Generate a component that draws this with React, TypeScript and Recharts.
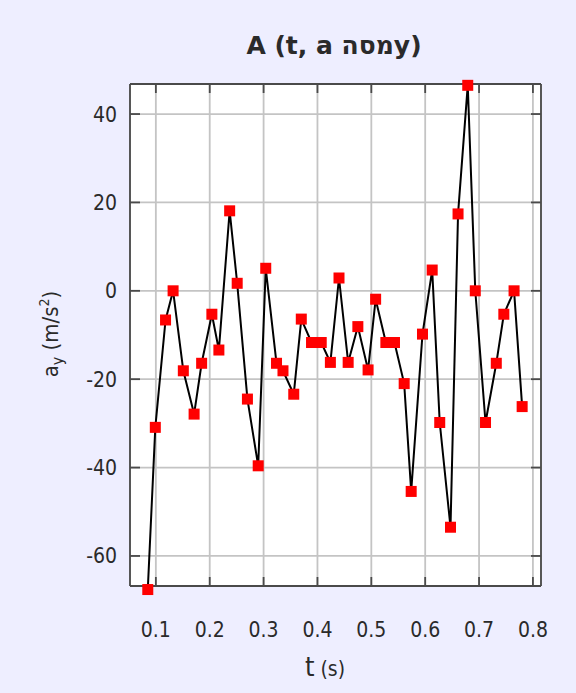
import { ComposedChart, Line, XAxis, YAxis, CartesianGrid } from "recharts";

// sample times (s) and vertical acceleration (m/s²)
const times = [
  0.085, 0.099, 0.118, 0.132, 0.151, 0.171, 0.185, 0.204, 0.217, 0.237,
  0.251, 0.27, 0.29, 0.304, 0.324, 0.336, 0.356, 0.37, 0.389, 0.407,
  0.424, 0.44, 0.457, 0.475, 0.494, 0.508, 0.527, 0.543, 0.561, 0.574,
  0.595, 0.613, 0.627, 0.647, 0.661, 0.679, 0.693, 0.712, 0.732, 0.746,
  0.765, 0.78,
];
const accelY = [
  -67.6, -30.9, -6.6, 0, -18.1, -27.9, -16.4, -5.3, -13.4, 18.1,
  1.7, -24.5, -39.6, 5.1, -16.4, -18.1, -23.4, -6.4, -11.7, -11.7,
  -16.2, 2.9, -16.2, -8.1, -17.9, -1.9, -11.7, -11.7, -21, -45.4,
  -9.8, 4.7, -29.8, -53.5, 17.4, 46.5, 0, -29.8, -16.4, -5.3,
  0, -26.2,
];
const xTicks = [0.1, 0.2, 0.3, 0.4, 0.5, 0.6, 0.7, 0.8];
const yTicks = [-60, -40, -20, 0, 20, 40];

const data = times.map((t, i) => ({ t, ay: accelY[i] }));

const W = 576;
const H = 693;
const FRAME = "#4a4a4a";
const TICK_FONT = "'DejaVu Sans Condensed', 'Liberation Sans Narrow', 'Liberation Sans', sans-serif";

const tickStyle = { fill: "#2a2a2a", fontSize: 21, fontFamily: TICK_FONT };
const axisLine = { stroke: FRAME, strokeWidth: 1.8 };
const blank = () => "";

const SquareDot = (props: any) => {
  const { cx, cy, index } = props;
  if (cx == null || cy == null) return null;
  return <rect key={index} x={cx - 5.5} y={cy - 5.5} width={11} height={11} fill="#ff0000" />;
};

export default function App() {
  return (
    <div style={{ position: "absolute", left: 0, top: 0, width: W, height: H, background: "#eeeeff" }}>
      {/* let the first/last markers spill over the frame */}
      <style>{`.recharts-wrapper g[clip-path] { clip-path: none !important; }`}</style>
      <ComposedChart
        width={W}
        height={H}
        data={data}
        margin={{ top: 64, right: 15, bottom: 57, left: 70 }}
      >
        <CartesianGrid stroke="#c4c4c4" strokeWidth={1.8} fill="#ffffff" fillOpacity={1} />
        <XAxis
          dataKey="t"
          type="number"
          domain={[0.052, 0.815]}
          ticks={xTicks}
          interval={0}
          allowDataOverflow
          height={50}
          tickSize={-9}
          tickMargin={45}
          axisLine={axisLine}
          tickLine={{ stroke: FRAME, strokeWidth: 1.8 }}
          tick={tickStyle}
        />
        <XAxis
          xAxisId="top"
          orientation="top"
          dataKey="t"
          type="number"
          domain={[0.052, 0.815]}
          ticks={xTicks}
          interval={0}
          allowDataOverflow
          height={20}
          tickSize={-9}
          tickFormatter={blank}
          axisLine={axisLine}
          tickLine={{ stroke: FRAME, strokeWidth: 1.8 }}
        />
        <YAxis
          type="number"
          domain={[-66.8, 46.8]}
          ticks={yTicks}
          interval={0}
          allowDataOverflow
          width={60}
          tickSize={-10}
          tickMargin={23}
          axisLine={axisLine}
          tickLine={{ stroke: FRAME, strokeWidth: 1.8 }}
          tick={tickStyle}
        />
        <YAxis
          yAxisId="right"
          orientation="right"
          type="number"
          domain={[-66.8, 46.8]}
          ticks={yTicks}
          interval={0}
          allowDataOverflow
          width={20}
          tickSize={-10}
          tickFormatter={blank}
          axisLine={axisLine}
          tickLine={{ stroke: FRAME, strokeWidth: 1.8 }}
        />
        {/* markers underneath, the connecting line drawn over them */}
        <Line
          dataKey="ay"
          type="linear"
          stroke="none"
          dot={SquareDot}
          activeDot={false}
          isAnimationActive={false}
        />
        <Line
          dataKey="ay"
          type="linear"
          stroke="#000000"
          strokeWidth={2}
          dot={false}
          activeDot={false}
          isAnimationActive={false}
        />
      </ComposedChart>
      <svg
        width={W}
        height={H}
        style={{ position: "absolute", left: 0, top: 0, pointerEvents: "none" }}
      >
        <text
          x={334}
          y={54}
          textAnchor="middle"
          fontFamily="'DejaVu Sans', sans-serif"
          fontWeight="bold"
          fontSize={25}
          fill="#2a2a2a"
        >
          A (t, a מסהy)
        </text>
        <text
          x={0}
          y={0}
          transform="translate(58 334) rotate(-90)"
          textAnchor="middle"
          fontFamily={TICK_FONT}
          fontSize={22}
          fill="#2a2a2a"
        >
          a<tspan fontSize={16} dy={5}>y</tspan>
          <tspan dy={-5}> (m/s</tspan>
          <tspan fontSize={14} dy={-9}>2</tspan>
          <tspan dy={9}>)</tspan>
        </text>
        <text
          x={325}
          y={676}
          textAnchor="middle"
          fontFamily={TICK_FONT}
          fill="#2a2a2a"
        >
          <tspan fontSize={27}>t</tspan>
          <tspan fontSize={21}> (s)</tspan>
        </text>
      </svg>
    </div>
  );
}
